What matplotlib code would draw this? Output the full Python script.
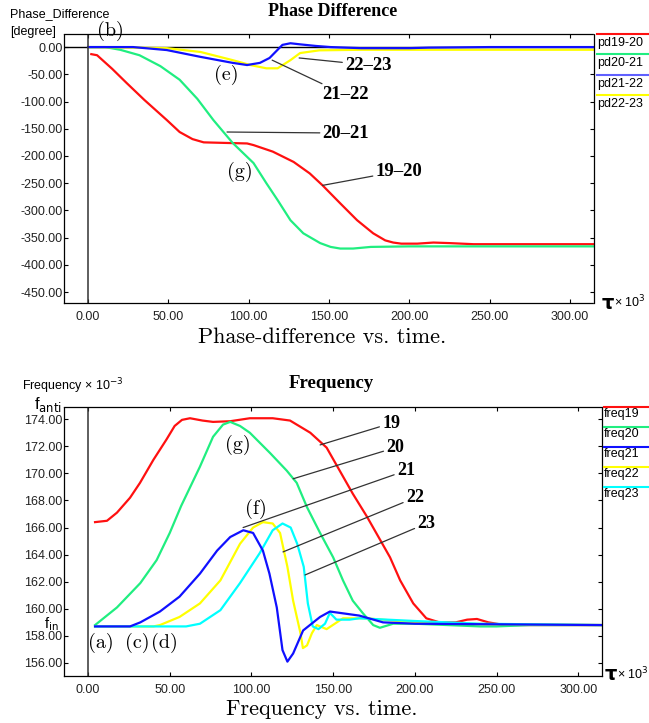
import matplotlib.pyplot as plt
from matplotlib.lines import Line2D

W, H = 649, 723

# ---- phase difference panel data (tau x 1e3, degree)
t_pd19 = [2, 5.6, 15, 24, 35, 49, 57, 65, 72, 85, 99, 103, 115, 128, 138, 146, 157, 167.5, 177.5, 185, 190, 195, 205, 215, 225, 240, 260, 315]
pd19 = [-13, -15, -40, -66, -97, -134, -156, -169, -175, -176, -177, -180, -192, -211, -232, -254, -287, -318, -342, -355, -359, -361, -361, -359, -360, -362, -362, -362]
t_pd20 = [0, 10.6, 20, 32, 45, 57, 68, 78, 90, 103, 111, 118, 126, 134, 144.5, 151, 157, 165, 176, 200, 240, 280, 315]
pd20 = [0, 0, -5, -15, -35, -60, -95, -134, -176, -213, -250, -281, -318, -342, -360, -367, -370, -370, -367, -366, -366, -366, -366]
t_pd21 = [0, 28, 49, 70, 90, 99, 107, 113, 121, 126, 132, 142, 151, 170, 200, 212, 250, 315]
pd21 = [0, 0, -5.5, -18, -29, -33, -29, -20, 4, 7, 5, 2, 0, -2, -2, -1, 0, 0]
t_pd22 = [0, 30, 49, 70, 90, 101, 111, 118, 126, 132, 144, 170, 220, 315]
pd22 = [0, -1, -2, -9, -24, -33, -39, -39, -24, -11, -6, -5, -5, -5]

# ---- frequency panel data (tau x 1e3, freq x 1e-3)
t_f19 = [4.3, 11.6, 17.7, 25.7, 31.8, 40, 48, 53, 57.5, 62.4, 70, 76.5, 87, 99, 113, 123.6, 136, 146, 154, 162, 170.7, 178.7, 184.8, 191, 199, 207, 215, 225, 232, 238, 245, 255, 270, 315]
f19 = [166.4, 166.5, 167.1, 168.2, 169.3, 171.0, 172.5, 173.5, 173.95, 174.07, 173.9, 173.8, 173.85, 174.07, 174.07, 173.9, 173.0, 171.9, 170.2, 168.5, 166.8, 165.1, 163.8, 162.1, 160.4, 159.3, 159.0, 159.0, 159.2, 159.25, 159.0, 158.8, 158.8, 158.8]
t_f20 = [4.3, 17.7, 32, 42, 50, 57, 68.5, 76.5, 82.6, 87, 93, 99, 111.4, 121.6, 127.7, 134, 142, 150, 156, 162, 168, 174.5, 178.6, 186.7, 200, 240, 250, 270, 315]
f20 = [158.8, 160.1, 161.9, 163.6, 165.6, 167.6, 170.5, 172.7, 173.6, 173.8, 173.5, 173.0, 171.5, 170.2, 169.3, 167.5, 165.6, 163.8, 162.1, 160.6, 159.7, 158.8, 158.6, 158.9, 158.9, 158.7, 158.7, 158.8, 158.8]
t_f21 = [4.3, 25.7, 32, 44, 56, 68.5, 79, 87, 95, 101, 107, 111, 115.5, 119, 122, 125.5, 131.6, 142, 148, 166, 180.5, 200, 315]
f21 = [158.7, 158.7, 159.0, 159.8, 160.9, 162.6, 164.3, 165.3, 165.8, 165.6, 164.3, 162.6, 160.1, 156.95, 156.1, 156.7, 158.4, 159.4, 159.8, 159.5, 159.0, 158.9, 158.8]
t_f22 = [4.3, 40, 44, 56, 68.5, 81, 93, 101, 107, 113, 117.5, 122, 125.5, 130, 131.5, 134, 137, 140, 146, 156, 170, 190, 220, 315]
f22 = [158.7, 158.7, 158.8, 159.4, 160.4, 162.1, 164.8, 166.0, 166.4, 166.3, 165.6, 163.1, 160.6, 158.2, 157.1, 157.3, 158.2, 158.8, 158.5, 159.3, 159.3, 159.1, 158.9, 158.8]
t_f23 = [4.3, 60, 68.5, 81, 93, 105, 113, 119, 124, 128, 132, 134.5, 137.5, 141, 145, 148, 152, 160, 166, 200, 240, 315]
f23 = [158.7, 158.7, 158.9, 159.9, 161.9, 164.1, 165.8, 166.3, 166.0, 164.8, 163.1, 160.4, 158.7, 158.5, 158.9, 159.7, 159.2, 159.2, 159.3, 159.1, 158.9, 158.8]

pd_labels = ["pd19-20", "pd20-21", "pd21-22", "pd22-23"]
freq_labels = ["freq19", "freq20", "freq21", "freq22", "freq23"]
xticks = [0, 50, 100, 150, 200, 250, 300]
pd_yticks = [0, -50, -100, -150, -200, -250, -300, -350, -400, -450]
f_yticks = [156, 158, 160, 162, 164, 166, 168, 170, 172, 174]

RED, GREEN, BLUE, YELLOW, CYAN = "#ff1010", "#20ee80", "#1010ff", "#ffff00", "#00ffff"

SANS = "Liberation Sans"
TIMES = "Liberation Serif"
CM = "cmr10"


def fpos(x, y):
    return x / W, 1 - y / H


def style_axes(ax):
    for s in ax.spines.values():
        s.set_linestyle((0, (1, 1)))
        s.set_linewidth(0.9)
    ax.tick_params(direction="in", length=3, width=0.8, top=True, right=True,
                   labelsize=9, labelcolor="#222222", pad=1)
    ax.tick_params(axis="x", pad=6)
    for lab in ax.get_xticklabels() + ax.get_yticklabels():
        lab.set_family(SANS)
    ax.set_xticks(xticks)
    ax.set_xticklabels(["%.2f" % v for v in xticks], family=SANS)


fig = plt.figure(figsize=(W / 100, H / 100), dpi=100)

# ================= top panel
ax1 = fig.add_axes([64 / W, 1 - 303 / H, (594 - 64) / W, (303 - 34) / H])
ax1.plot(t_pd19, pd19, color=RED, lw=1.6)
ax1.plot(t_pd20, pd20, color=GREEN, lw=1.6)
ax1.plot(t_pd22, pd22, color=YELLOW, lw=1.6)
ax1.plot(t_pd21, pd21, color=BLUE, lw=1.6)
ax1.axhline(0, color="k", lw=1, zorder=0)
ax1.axvline(0, color="#333333", lw=1.1)
ax1.set_xlim(-15, 315)
ax1.set_ylim(-470, 24)
ax1.set_yticks(pd_yticks)
ax1.set_yticklabels(["%.2f" % v for v in pd_yticks], family=SANS)
style_axes(ax1)

big = dict(family=TIMES, fontsize=13.5, fontweight="bold", va="center")
lead = dict(arrowstyle="-", color="#333333", lw=0.9, shrinkA=0, shrinkB=0)
ax1.annotate("22\u201323", xy=(131.4, -20), xytext=(160, -33), arrowprops=lead, ha="left", **big)
ax1.annotate("21\u201322", xy=(114.6, -24), xytext=(146, -88), arrowprops=lead, ha="left", **big)
ax1.annotate("20\u201321", xy=(86.5, -156), xytext=(146, -158), arrowprops=lead, ha="left", **big)
ax1.annotate("19\u201320", xy=(146, -254), xytext=(179, -228), arrowprops=lead, ha="left", **big)
lett = dict(family=CM, fontsize=14.5, ha="center", va="center")
ax1.text(13.7, 29, "(b)", clip_on=False, **lett)
ax1.text(86, -51.5, "(e)", **lett)
ax1.text(94.6, -230, "(g)", **lett)

# ================= bottom panel
ax2 = fig.add_axes([64 / W, 1 - 676 / H, (602 - 64) / W, (676 - 407) / H])
ax2.plot(t_f19, f19, color=RED, lw=1.6)
ax2.plot(t_f20, f20, color=GREEN, lw=1.6)
ax2.plot(t_f22, f22, color=YELLOW, lw=1.6)
ax2.plot(t_f23, f23, color=CYAN, lw=1.6)
ax2.plot(t_f21, f21, color=BLUE, lw=1.6)
ax2.axvline(0, color="#333333", lw=1.1)
ax2.set_xlim(-14.7, 314.5)
ax2.set_ylim(155.04, 174.9)
ax2.set_yticks(f_yticks)
ax2.set_yticklabels(["%.2f" % v for v in f_yticks], family=SANS)
style_axes(ax2)

big2 = dict(family=TIMES, fontsize=13, fontweight="bold", va="center", ha="left")
ax2.annotate("19", xy=(142, 172.1), xytext=(180, 173.7), arrowprops=lead, **big2)
ax2.annotate("20", xy=(125.5, 169.6), xytext=(182.5, 171.9), arrowprops=lead, **big2)
ax2.annotate("21", xy=(94.9, 166.0), xytext=(189, 170.2), arrowprops=lead, **big2)
ax2.annotate("22", xy=(119.3, 164.2), xytext=(194.5, 168.2), arrowprops=lead, **big2)
ax2.annotate("23", xy=(132.8, 162.5), xytext=(201.5, 166.3), arrowprops=lead, **big2)
ax2.text(102.8, 167.4, "(f)", **lett)
ax2.text(91.8, 172.1, "(g)", **lett)
ax2.text(8, 157.5, "(a)", **lett)
ax2.text(30, 157.5, "(c)", **lett)
ax2.text(46.5, 157.5, "(d)", **lett)

# ================= figure texts
fig.text(*fpos(10, 14), "Phase_Difference", family=SANS, fontsize=9, va="center")
fig.text(*fpos(10, 32), "[degree]", family=SANS, fontsize=9, va="center")
fig.text(*fpos(333, 11), "Phase Difference", family=TIMES, fontsize=13, fontweight="bold", ha="center", va="center")
fig.text(*fpos(322, 337), "Phase-difference vs. time.", family=CM, fontsize=16, ha="center", va="center")
fig.text(*fpos(601, 303), r"$\mathbf{\tau}$", fontsize=14, va="center")
fig.text(*fpos(614, 302), "\u00d7 10$^3$", family=SANS, fontsize=9, va="center")

fig.text(*fpos(22, 386), "Frequency \u00d7 10$^{-3}$", family=SANS, fontsize=9, va="center")
fig.text(*fpos(331, 384), "Frequency", family=TIMES, fontsize=13.5, fontweight="bold", ha="center", va="center")
fig.text(*fpos(322, 709), "Frequency vs. time.", family=CM, fontsize=16, ha="center", va="center")
fig.text(*fpos(604, 675), r"$\mathbf{\tau}$", fontsize=14, va="center")
fig.text(*fpos(617, 674), "\u00d7 10$^3$", family=SANS, fontsize=9, va="center")
fig.text(*fpos(62, 405), r"f$_{\rm anti}$", family=SANS, fontsize=12, ha="right", va="center")
fig.text(*fpos(59, 624), r"f$_{\rm in}$", family=SANS, fontsize=10.5, ha="right", va="center")

# ================= manual legends (line above the name)
for i, (lab, col) in enumerate(zip(pd_labels, [RED, GREEN, "#6060ff", YELLOW])):
    y = 34 + 20.3 * i
    fig.add_artist(Line2D([597 / W, 1], [1 - y / H] * 2, color=col, lw=1.5))
    fig.text(*fpos(597, y + 9), lab, family=SANS, fontsize=9, va="center")
for i, (lab, col) in enumerate(zip(freq_labels, [RED, GREEN, BLUE, YELLOW, CYAN])):
    y = 407 + 20 * i
    fig.add_artist(Line2D([604 / W, 1], [1 - y / H] * 2, color=col, lw=1.5))
    fig.text(*fpos(604, y + 7), lab, family=SANS, fontsize=9, va="center")

fig.savefig("out.png", dpi=100)
